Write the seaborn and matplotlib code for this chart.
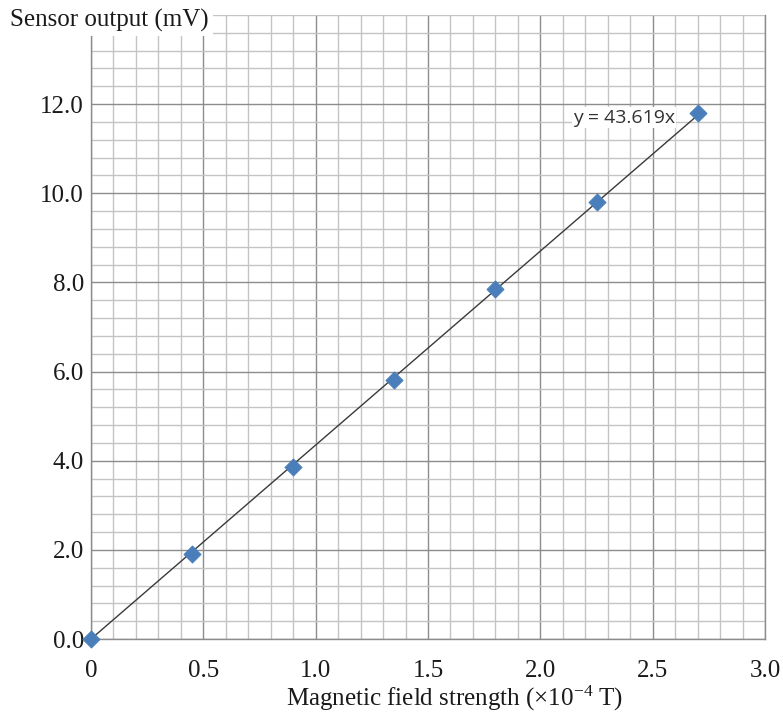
import numpy as np
import pandas as pd
import matplotlib
matplotlib.use("Agg")
import matplotlib.pyplot as plt
from matplotlib.ticker import MultipleLocator, FixedLocator
import seaborn as sns

# Valores
field = [0.0, 0.45, 0.90, 1.35, 1.80, 2.25, 2.70]
output = [0.0, 1.90, 3.85, 5.80, 7.85, 9.80, 11.80]
x_ticks = [0.0, 0.5, 1.0, 1.5, 2.0, 2.5, 3.0]
x_tick_labels = ["0", "0.5", "1.0", "1.5", "2.0", "2.5", "3.0"]
y_ticks = [0.0, 2.0, 4.0, 6.0, 8.0, 10.0, 12.0]
y_tick_labels = ["0.0", "2.0", "4.0", "6.0", "8.0", "10.0", "12.0"]
equation = "y = 43.619x"

sns.set_theme(style="white")
plt.rcParams["font.family"] = ["Liberation Serif", "DejaVu Serif"]
plt.rcParams["mathtext.default"] = "regular"

df = pd.DataFrame({"field": field, "output": output})

# Linha de tendência pela origem
slope = np.sum(df["field"] * df["output"]) / np.sum(df["field"] ** 2)
trend = pd.DataFrame({"field": [0.0, max(field)]})
trend["output"] = slope * trend["field"]

fig = plt.figure(figsize=(7.83, 7.15), dpi=100)
ax = fig.add_axes([91 / 783, 1 - 639 / 715, (765 - 91) / 783, (639 - 15) / 715])

ax.set_xlim(0, 3.0)
ax.set_ylim(0, 14)

# Grade estilo papel milimetrado
ax.xaxis.set_minor_locator(MultipleLocator(0.1))
ax.yaxis.set_minor_locator(MultipleLocator(0.4))
ax.xaxis.set_major_locator(FixedLocator(x_ticks))
ax.yaxis.set_major_locator(FixedLocator(y_ticks))
ax.grid(which="minor", color="#c4c4c4", linewidth=1.0)
ax.grid(which="major", color="#8c8c8c", linewidth=1.0)
ax.set_axisbelow(True)

sns.lineplot(data=trend, x="field", y="output", ax=ax, color="#3a3a3a",
             linewidth=1.0, zorder=3)
sns.scatterplot(data=df, x="field", y="output", ax=ax, marker="D", s=75,
                color="#4a7ebb", edgecolor="#4a7ebb", zorder=4, clip_on=False)

ax.set_xticklabels(x_tick_labels, fontsize=18)
ax.set_yticklabels(y_tick_labels, fontsize=18)
ax.tick_params(axis="x", which="major", length=6, color="#8c8c8c", pad=9, width=1)
ax.tick_params(axis="y", which="major", length=4, color="#8c8c8c", pad=1, width=1)
ax.tick_params(which="minor", length=0)
ax.tick_params(axis="both", labelcolor="#1a1a1a")

for side in ["left", "bottom", "right", "top"]:
    ax.spines[side].set_color("#8c8c8c")
    ax.spines[side].set_linewidth(1.0)
ax.spines["top"].set_visible(False)

ax.set_xlabel("")
ax.set_ylabel("")

ax.text(2.145, 11.70, equation, fontsize=14, family=["Open Sans", "DejaVu Sans"],
        color="#333333", va="center", ha="left", zorder=5,
        bbox=dict(facecolor="white", edgecolor="none", pad=1))

fig.text(10 / 783, 1 - 20 / 715, "Sensor output (mV)", fontsize=18, color="#1a1a1a",
         va="center", ha="left",
         bbox=dict(facecolor="white", edgecolor="none", pad=3))
fig.text(455 / 783, 1 - 706 / 715, "Magnetic field strength (×10$^{-4}$ T)",
         fontsize=18, color="#1a1a1a", va="baseline", ha="center")

fig.savefig("out.png", dpi=100)
